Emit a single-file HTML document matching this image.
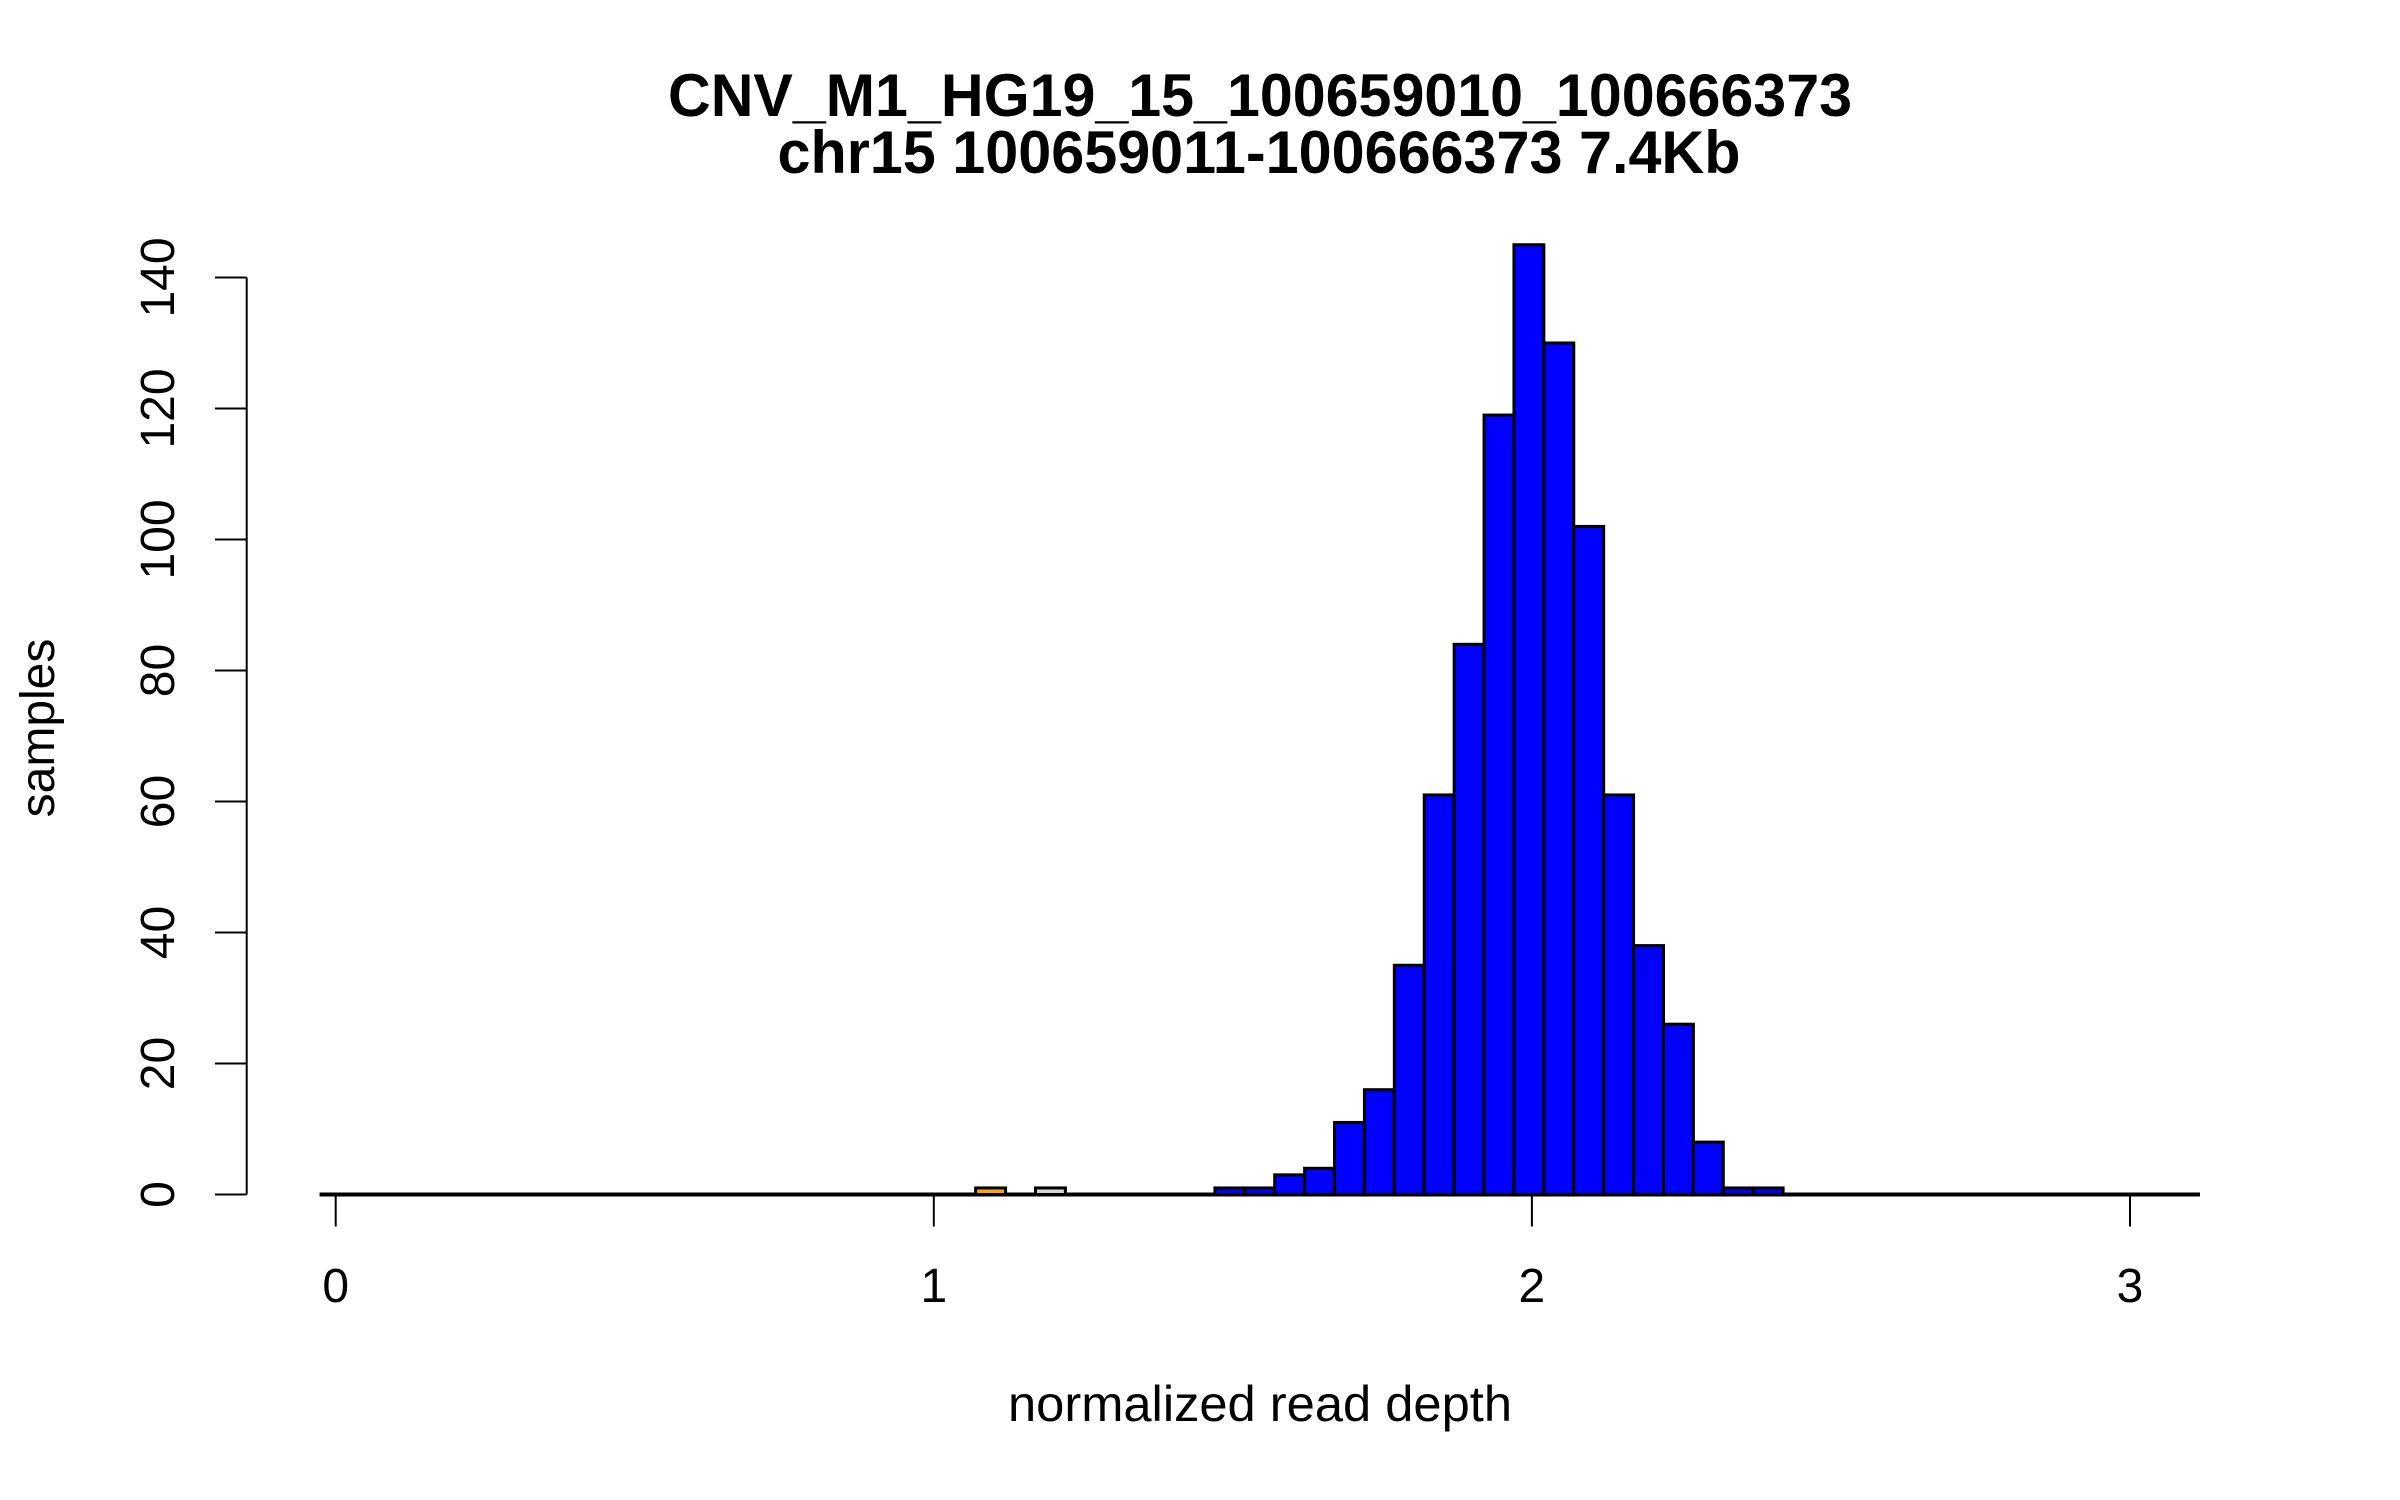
<!DOCTYPE html>
<html><head><meta charset="utf-8"><style>
html,body{margin:0;padding:0;background:#fff;}
svg{display:block;font-family:"Liberation Sans",sans-serif;}
</style></head><body>
<svg id="chart" width="2400" height="1500" viewBox="0 0 2400 1500" xmlns="http://www.w3.org/2000/svg">
<rect width="2400" height="1500" fill="#fff"/>
<text x="1260" y="116" text-anchor="middle" font-weight="bold" font-size="60" textLength="1184" lengthAdjust="spacingAndGlyphs">CNV_M1_HG19_15_100659010_100666373</text>
<text x="1259" y="173" text-anchor="middle" font-weight="bold" font-size="60" textLength="963" lengthAdjust="spacingAndGlyphs">chr15 100659011-100666373 7.4Kb</text>
<text x="1260" y="1421" text-anchor="middle" font-size="50" textLength="504" lengthAdjust="spacingAndGlyphs">normalized read depth</text>
<text transform="translate(54,728) rotate(-90)" text-anchor="middle" font-size="48">samples</text>
<g id="bars"></g>
<g id="axes"></g>
</svg>
<script>
const binStarts = [1.07, 1.17, 1.47, 1.52, 1.57, 1.62, 1.67, 1.72, 1.77, 1.82, 1.87, 1.92, 1.97, 2.02, 2.07, 2.12, 2.17, 2.22, 2.27, 2.32, 2.37];
const counts = [1, 1, 1, 1, 3, 4, 11, 16, 35, 61, 84, 119, 145, 130, 102, 61, 38, 26, 8, 1, 1];
const barColors = ["orange", "#d3d3d3", "blue", "blue", "blue", "blue", "blue", "blue", "blue", "blue", "blue", "blue", "blue", "blue", "blue", "blue", "blue", "blue", "blue", "blue", "blue"];
const binWidth = 0.05;
const xTicks = [0, 1, 2, 3];
const yTicks = [0, 20, 40, 60, 80, 100, 120, 140];

const NS = "http://www.w3.org/2000/svg";
function xs(v){ return 335.7 + v * 598.1; }
function ys(v){ return 1194.5 - v * 6.55; }
function mk(tag, attrs, parent){
  const e = document.createElementNS(NS, tag);
  for (const k in attrs) e.setAttribute(k, attrs[k]);
  parent.appendChild(e);
  return e;
}
const bars = document.getElementById('bars');
const axes = document.getElementById('axes');

const base = mk('line', {x1: xs(-0.027), x2: xs(3.117), y1: ys(0), y2: ys(0), stroke: '#000', 'stroke-width': 4}, bars);



for (let i = 0; i < counts.length; i++) {
  const x0 = xs(binStarts[i]), x1 = xs(binStarts[i] + binWidth);
  const r = mk('rect', {x: x0, y: ys(counts[i]), width: x1 - x0, height: ys(0) - ys(counts[i]), fill: barColors[i], stroke: '#000', 'stroke-width': 3}, bars);
  
  
}

for (const t of xTicks) {
  const l = mk('line', {x1: xs(t), x2: xs(t), y1: ys(0) + 2, y2: ys(0) + 32, stroke: '#000', 'stroke-width': 2}, axes);
  
  
  const tx = mk('text', {x: xs(t), y: 1302, 'text-anchor': 'middle', 'font-size': 48}, axes);
  tx.textContent = t;
  
  
}
const ya = mk('line', {x1: 246.7, x2: 246.7, y1: ys(0), y2: ys(140), stroke: '#000', 'stroke-width': 2}, axes);


for (const t of yTicks) {
  const l = mk('line', {x1: 215, x2: 246.7, y1: ys(t), y2: ys(t), stroke: '#000', 'stroke-width': 2}, axes);
  
  
  const tx = mk('text', {x: 0, y: 0, 'text-anchor': 'middle', 'font-size': 48, transform: 'translate(174,' + ys(t) + ') rotate(-90)'}, axes);
  tx.textContent = t;
  
  
}
</script>
</body></html>
